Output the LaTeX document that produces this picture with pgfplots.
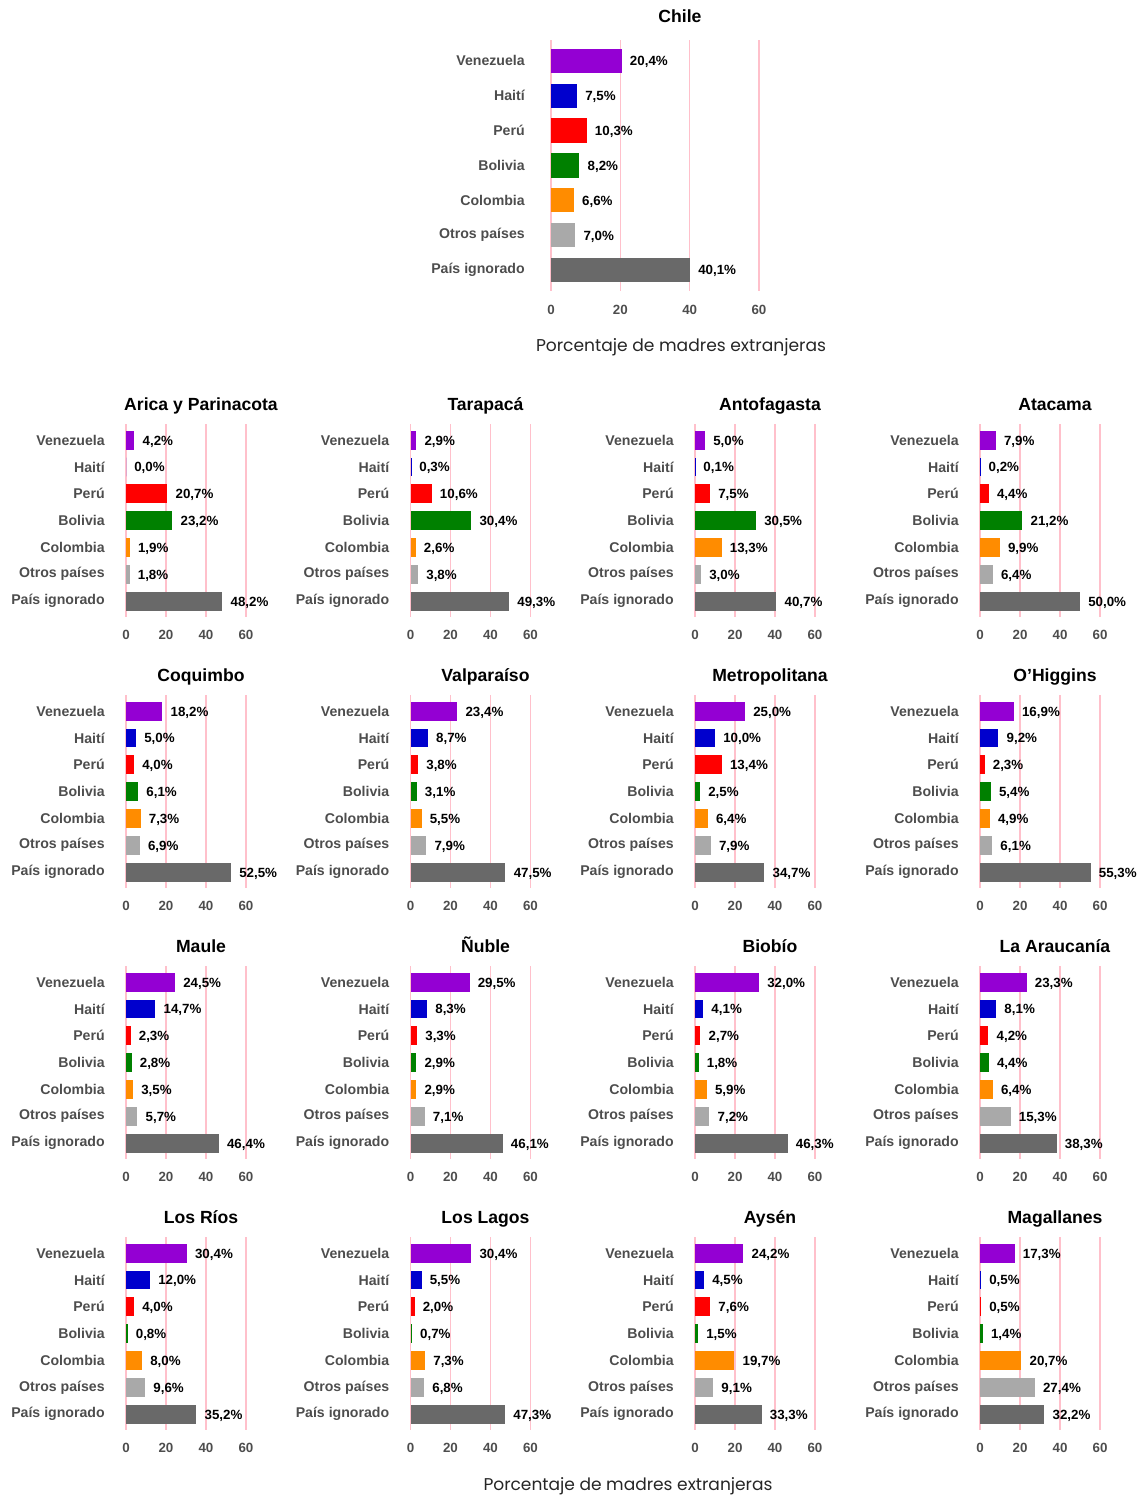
\documentclass[border=0pt]{standalone}
\usepackage{pgfplots}
\pgfplotsset{compat=1.18}
\usepackage{fontspec}
\setmainfont{Liberation Sans}
\newfontfamily\axtitlefont{Poppins}
\usepackage{graphicx}
\definecolor{cVen}{HTML}{9400D3}
\definecolor{cHai}{HTML}{0000CD}
\definecolor{cPer}{HTML}{FF0000}
\definecolor{cBol}{HTML}{008000}
\definecolor{cCol}{HTML}{FF8C00}
\definecolor{cOtr}{HTML}{A9A9A9}
\definecolor{cIgn}{HTML}{696969}
\definecolor{gridpink}{HTML}{FFC0CB}
\definecolor{labgray}{HTML}{4D4D4D}
\pgfkeys{/pgf/number format/assume math mode=true}
\pgfplotsset{
 panel/.style={
  scale only axis, xbar, bar shift=0pt, bar width=0.7,
  xmin=0, xmax=60, ymin=0.4, ymax=7.6, y dir=reverse,
  enlargelimits=false, clip=false,
  axis line style={draw=none}, major tick length=0pt,
  xtick={0,20,40,60}, ytick={1,...,7},
  yticklabels={Venezuela,Haití,Perú,Bolivia,Colombia,Otros países,País ignorado},
  xmajorgrids, major grid style={color=gridpink, line width=1pt},
  tick label style={font=\bfseries\fontsize{10}{12}\selectfont, text=labgray, inner sep=0pt},
  yticklabel style={font=\bfseries\fontsize{10.6}{12}\selectfont},
  point meta=x,
  nodes near coords={\pgfmathprintnumber[fixed,fixed zerofill,precision=1,use comma]{\pgfplotspointmeta}\%},
  every node near coord/.append style={font=\bfseries\fontsize{10}{12}\selectfont, text=black, inner sep=0pt, anchor=west, xshift=6pt, yshift=-1pt},
  every axis title/.style={font=\bfseries\fontsize{13.2}{15}\selectfont, at={(0.5,1)}, anchor=base},
  anchor=north west,
 },
 small/.style={panel, width=90pt, height=144.9pt,
  title style={xshift=11.25pt, yshift=10.1pt},
  yticklabel style={anchor=east, xshift=-15.75pt},
  xticklabel style={anchor=center, yshift=-13.5pt}},
 big/.style={panel, width=156pt, height=188.1pt,
  title style={xshift=18.75pt, yshift=13.1pt},
  yticklabel style={anchor=east, xshift=-19.5pt},
  xticklabel style={anchor=center, yshift=-14.25pt}},
}
\newcommand\bars[7]{%
 \addplot[fill=cVen, draw=none] coordinates {(#1,1)};
 \addplot[fill=cHai, draw=none] coordinates {(#2,2)};
 \addplot[fill=cPer, draw=none] coordinates {(#3,3)};
 \addplot[fill=cBol, draw=none] coordinates {(#4,4)};
 \addplot[fill=cCol, draw=none] coordinates {(#5,5)};
 \addplot[fill=cOtr, draw=none] coordinates {(#6,6)};
 \addplot[fill=cIgn, draw=none] coordinates {(#7,7)};
}
\begin{document}
\begin{tikzpicture}
\useasboundingbox (0,0) rectangle (854.25pt,-1122.75pt);
% Chile
\begin{axis}[big, at={(413.25pt,-30pt)}, title={Chile}]
\bars{20.4}{7.5}{10.3}{8.2}{6.6}{7.0}{40.1}
\end{axis}
\node[font=\axtitlefont, text=black!85] at (510.75pt,-260.25pt) {\resizebox{217.5pt}{!}{Porcentaje de madres extranjeras}};
% Row 1
\begin{axis}[small, at={(94.5pt,-318pt)}, title={Arica y Parinacota}]
\bars{4.2}{0.0}{20.7}{23.2}{1.9}{1.8}{48.2}
\end{axis}
\begin{axis}[small, at={(307.875pt,-318pt)}, title={Tarapacá}]
\bars{2.9}{0.3}{10.6}{30.4}{2.6}{3.8}{49.3}
\end{axis}
\begin{axis}[small, at={(521.25pt,-318pt)}, title={Antofagasta}]
\bars{5.0}{0.1}{7.5}{30.5}{13.3}{3.0}{40.7}
\end{axis}
\begin{axis}[small, at={(735pt,-318pt)}, title={Atacama}]
\bars{7.9}{0.2}{4.4}{21.2}{9.9}{6.4}{50.0}
\end{axis}
% Row 2
\begin{axis}[small, at={(94.5pt,-521.25pt)}, title={Coquimbo}]
\bars{18.2}{5.0}{4.0}{6.1}{7.3}{6.9}{52.5}
\end{axis}
\begin{axis}[small, at={(307.875pt,-521.25pt)}, title={Valparaíso}]
\bars{23.4}{8.7}{3.8}{3.1}{5.5}{7.9}{47.5}
\end{axis}
\begin{axis}[small, at={(521.25pt,-521.25pt)}, title={Metropolitana}]
\bars{25.0}{10.0}{13.4}{2.5}{6.4}{7.9}{34.7}
\end{axis}
\begin{axis}[small, at={(735pt,-521.25pt)}, title={O'Higgins}]
\bars{16.9}{9.2}{2.3}{5.4}{4.9}{6.1}{55.3}
\end{axis}
% Row 3
\begin{axis}[small, at={(94.5pt,-724.5pt)}, title={Maule}]
\bars{24.5}{14.7}{2.3}{2.8}{3.5}{5.7}{46.4}
\end{axis}
\begin{axis}[small, at={(307.875pt,-724.5pt)}, title={Ñuble}]
\bars{29.5}{8.3}{3.3}{2.9}{2.9}{7.1}{46.1}
\end{axis}
\begin{axis}[small, at={(521.25pt,-724.5pt)}, title={Biobío}]
\bars{32.0}{4.1}{2.7}{1.8}{5.9}{7.2}{46.3}
\end{axis}
\begin{axis}[small, at={(735pt,-724.5pt)}, title={La Araucanía}]
\bars{23.3}{8.1}{4.2}{4.4}{6.4}{15.3}{38.3}
\end{axis}
% Row 4
\begin{axis}[small, at={(94.5pt,-927.75pt)}, title={Los Ríos}]
\bars{30.4}{12.0}{4.0}{0.8}{8.0}{9.6}{35.2}
\end{axis}
\begin{axis}[small, at={(307.875pt,-927.75pt)}, title={Los Lagos}]
\bars{30.4}{5.5}{2.0}{0.7}{7.3}{6.8}{47.3}
\end{axis}
\begin{axis}[small, at={(521.25pt,-927.75pt)}, title={Aysén}]
\bars{24.2}{4.5}{7.6}{1.5}{19.7}{9.1}{33.3}
\end{axis}
\begin{axis}[small, at={(735pt,-927.75pt)}, title={Magallanes}]
\bars{17.3}{0.5}{0.5}{1.4}{20.7}{27.4}{32.2}
\end{axis}
\node[font=\axtitlefont, text=black!85] at (471pt,-1114.5pt) {\resizebox{216.75pt}{!}{Porcentaje de madres extranjeras}};
\end{tikzpicture}
\end{document}
